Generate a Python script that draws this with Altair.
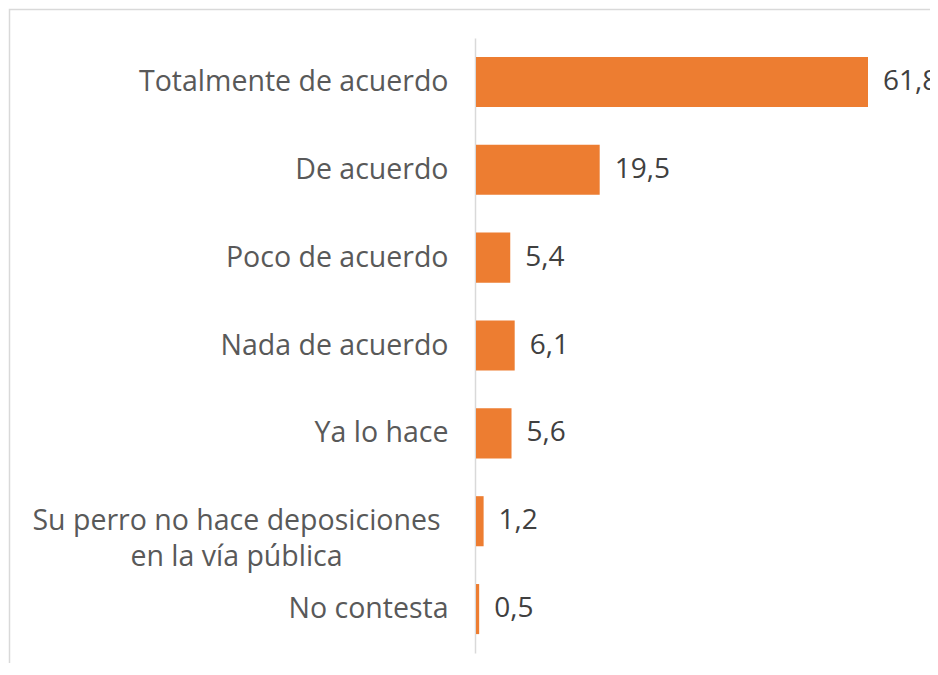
import altair as alt
import pandas as pd

categories = [
    "Totalmente de acuerdo",
    "De acuerdo",
    "Poco de acuerdo",
    "Nada de acuerdo",
    "Ya lo hace",
    "Su perro no hace deposiciones|en la vía pública",
    "No contesta",
]
values = [61.8, 19.5, 5.4, 6.1, 5.6, 1.2, 0.5]
value_labels = [f"{v:.1f}".replace(".", ",") for v in values]

df = pd.DataFrame({"cat": categories, "val": values, "lab": value_labels})

FONT = "Open Sans"

y_enc = alt.Y(
    "cat:N",
    sort=None,
    scale=alt.Scale(range=[30, 645], paddingInner=0.43, paddingOuter=0.215),
    axis=alt.Axis(
        title=None,
        orient="left",
        offset=-467,
        domainColor="#d9d9d9",
        domainWidth=1.5,
        ticks=False,
        grid=False,
        labelPadding={"condition": {"test": "indexof(datum.value, '|') >= 0", "value": 239}, "value": 27},
        labelAlign={"condition": {"test": "indexof(datum.value, '|') >= 0", "value": "center"}, "value": "right"},
        labelFont=FONT,
        labelFontSize=28.5,
        labelColor="#595959",
        labelLimit=0,
        labelLineHeight=36,
        labelExpr="split(datum.label, '|')",
    ),
)

x_enc = alt.X(
    "val:Q",
    scale=alt.Scale(domain=[0, max(values)], range=[468, 860]),
    axis=None,
)

bars = alt.Chart(df).mark_bar(color="#ED7D31").encode(x=x_enc, y=y_enc)

texts = alt.Chart(df).mark_text(
    align="left", baseline="middle", dx=15, font=FONT, fontSize=28, color="#404040"
).encode(x=x_enc, y=y_enc, text="lab:N")

frame = alt.Chart(pd.DataFrame({"f": [0]})).mark_rect(
    filled=False, stroke="#d9d9d9", strokeWidth=1.5, clip=True
).encode(
    x=alt.value(1.5), x2=alt.value(3000), y=alt.value(1.5), y2=alt.value(3000)
)

chart = (
    alt.layer(frame, bars, texts)
    .properties(
        width=922,
        height=655,
        autosize=alt.AutoSizeParams(type="none"),
        padding={"left": 0, "top": 0, "right": 0, "bottom": 0},
    )
    .configure_view(stroke="transparent")
)

chart.save("out.html", embed_options={"renderer": "svg", "actions": False})
